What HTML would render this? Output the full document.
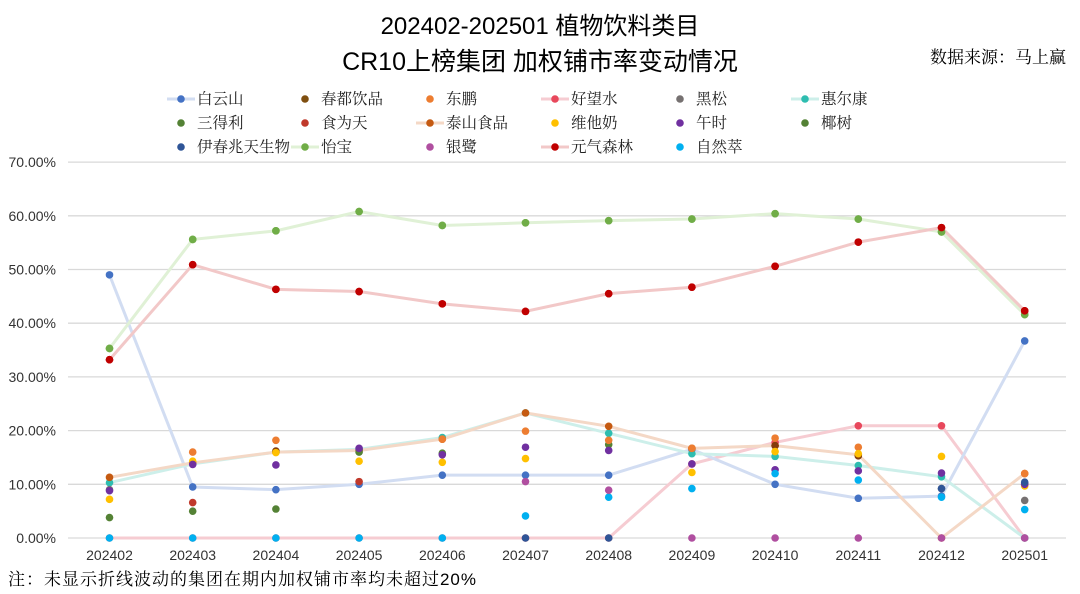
<!DOCTYPE html>
<html><head><meta charset="utf-8"><style>
body{margin:0;background:#fff;width:1080px;height:594px;overflow:hidden}
svg{display:block}
text{font-family:"Liberation Sans","Noto Sans CJK SC",sans-serif}
.c{font-family:"Liberation Sans","Noto Serif CJK SC",serif}
</style></head><body>
<svg id="s" width="1080" height="594" xmlns="http://www.w3.org/2000/svg"></svg>
<script>
const s=document.getElementById('s');let h='';
const X=i=>109.5+83.2*i, Y=v=>538-5.37*v;
h+='<text x="540" y="34" text-anchor="middle" font-size="24" fill="#000">202402-202501 植物饮料类目</text>';
h+='<text x="540" y="70" text-anchor="middle" font-size="25" fill="#000">CR10上榜集团 加权铺市率变动情况</text>';
h+='<text x="1066" y="63" text-anchor="end" font-size="17" fill="#000" class="c">数据来源：马上赢</text>';
for(let k=0;k<=7;k++){const y=Y(k*10);h+=`<line x1="68" x2="1066" y1="${y}" y2="${y}" stroke="#d9d9d9" stroke-width="1.3"/>`;
h+=`<text x="56" y="${y+5}" text-anchor="end" font-size="14" fill="#333">${k*10}.00%</text>`;}
const labs=['202402','202403','202404','202405','202406','202407','202408','202409','202410','202411','202412','202501'];
labs.forEach((l,i)=>h+=`<text x="${X(i)}" y="560" text-anchor="middle" font-size="14" fill="#333">${l}</text>`);
h+='<text x="8" y="585" font-size="17" fill="#000" class="c" textLength="468">注：未显示折线波动的集团在期内加权铺市率均未超过20%</text>';
const N=null;
const lines=[
['#f6ccd2','#e8485c',[0,0,0,0,0,0,0,13.8,17.8,20.9,20.9,0]],
['#d2ddf2','#4472c4',[49,9.5,9,10,11.7,11.7,11.7,16.5,10,7.4,7.8,36.7]],
['#cdefea','#2ebdb0',[10.3,13.8,16,16.5,18.7,23.3,19.5,15.7,15.2,13.5,11.4,0]],
['#f4d8c6','#c55a11',[11.3,14,16,16.3,18.4,23.3,20.8,16.7,17.2,15.5,0,12]],
['#e0f1d6','#70ad47',[35.3,55.6,57.2,60.8,58.2,58.7,59.1,59.4,60.4,59.4,57,41.6]],
['#f2c8c8','#c00000',[33.2,50.9,46.3,45.9,43.6,42.2,45.5,46.7,50.6,55.1,57.8,42.3]]];
const dots=[
['#548235',[3.8,5,5.4,16,15.8,N,17.4,N,N,N,N,N]],
['#767171',[9,N,N,N,N,N,N,N,N,N,9.2,7]],
['#c0392b',[N,6.6,N,10.5,N,N,N,N,N,N,N,N]],
['#843c0c',[N,N,16.2,N,N,N,N,N,17.2,15.3,N,10]],
['#ed7d31',[N,16,18.2,N,18.4,19.9,18.2,16.7,18.6,16.9,N,12]],
['#ffc000',[7.2,14.3,15.9,14.3,14.1,14.8,N,12.2,16.1,15.7,15.2,9.7]],
['#7030a0',[8.8,13.7,13.6,16.7,15.5,16.9,16.3,13.8,12.7,12.5,12.1,10]],
['#00b0f0',[0,0,0,0,0,4.1,7.6,9.2,12,10.8,7.6,5.3]],
['#b04fa0',[N,N,N,N,N,10.5,8.9,0,0,0,0,0]],
['#2f5597',[N,N,N,N,N,0,0,N,N,N,9.2,10.4]]];
lines.forEach(([lc,dc,d])=>{h+=`<polyline fill="none" stroke="${lc}" stroke-width="3" points="${d.map((v,i)=>X(i)+','+Y(v)).join(' ')}"/>`;});
lines.forEach(([lc,dc,d])=>{d.forEach((v,i)=>h+=`<circle cx="${X(i)}" cy="${Y(v)}" r="3.8" fill="${dc}"/>`);});
dots.forEach(([c,d])=>d.forEach((v,i)=>{if(v!==null)h+=`<circle cx="${X(i)}" cy="${Y(v)}" r="3.8" fill="${c}"/>`;}));
lines.slice(4).forEach(([lc,dc,d])=>{d.forEach((v,i)=>h+=`<circle cx="${X(i)}" cy="${Y(v)}" r="3.8" fill="${dc}"/>`);});
const leg=[
[['白云山','#4472c4','#d2ddf2'],['春都饮品','#7f4f10'],['东鹏','#ed7d31'],['好望水','#e8485c','#f6ccd2'],['黑松','#767171'],['惠尔康','#2ebdb0','#cdefea']],
[['三得利','#548235'],['食为天','#c0392b'],['泰山食品','#c55a11','#f4d8c6'],['维他奶','#ffc000'],['午时','#7030a0'],['椰树','#548235']],
[['伊春兆天生物','#2f5597'],['怡宝','#70ad47','#e0f1d6'],['银鹭','#b04fa0'],['元气森林','#c00000','#f2c8c8'],['自然萃','#00b0f0']]];
const cx=[181,305,430,555,680,805];
leg.forEach((row,r)=>{const y=99+24*r;row.forEach((e,c)=>{let x=cx[c];
if(e[2])h+=`<line x1="${x-14}" x2="${x+14}" y1="${y}" y2="${y}" stroke="${e[2]}" stroke-width="3"/>`;
h+=`<circle cx="${x}" cy="${y}" r="3.8" fill="${e[1]}"/>`;
h+=`<text x="${x+16}" y="${y+5}" font-size="15.5" fill="#222" class="c">${e[0]}</text>`;});});
s.innerHTML=h;
</script>
</body></html>
